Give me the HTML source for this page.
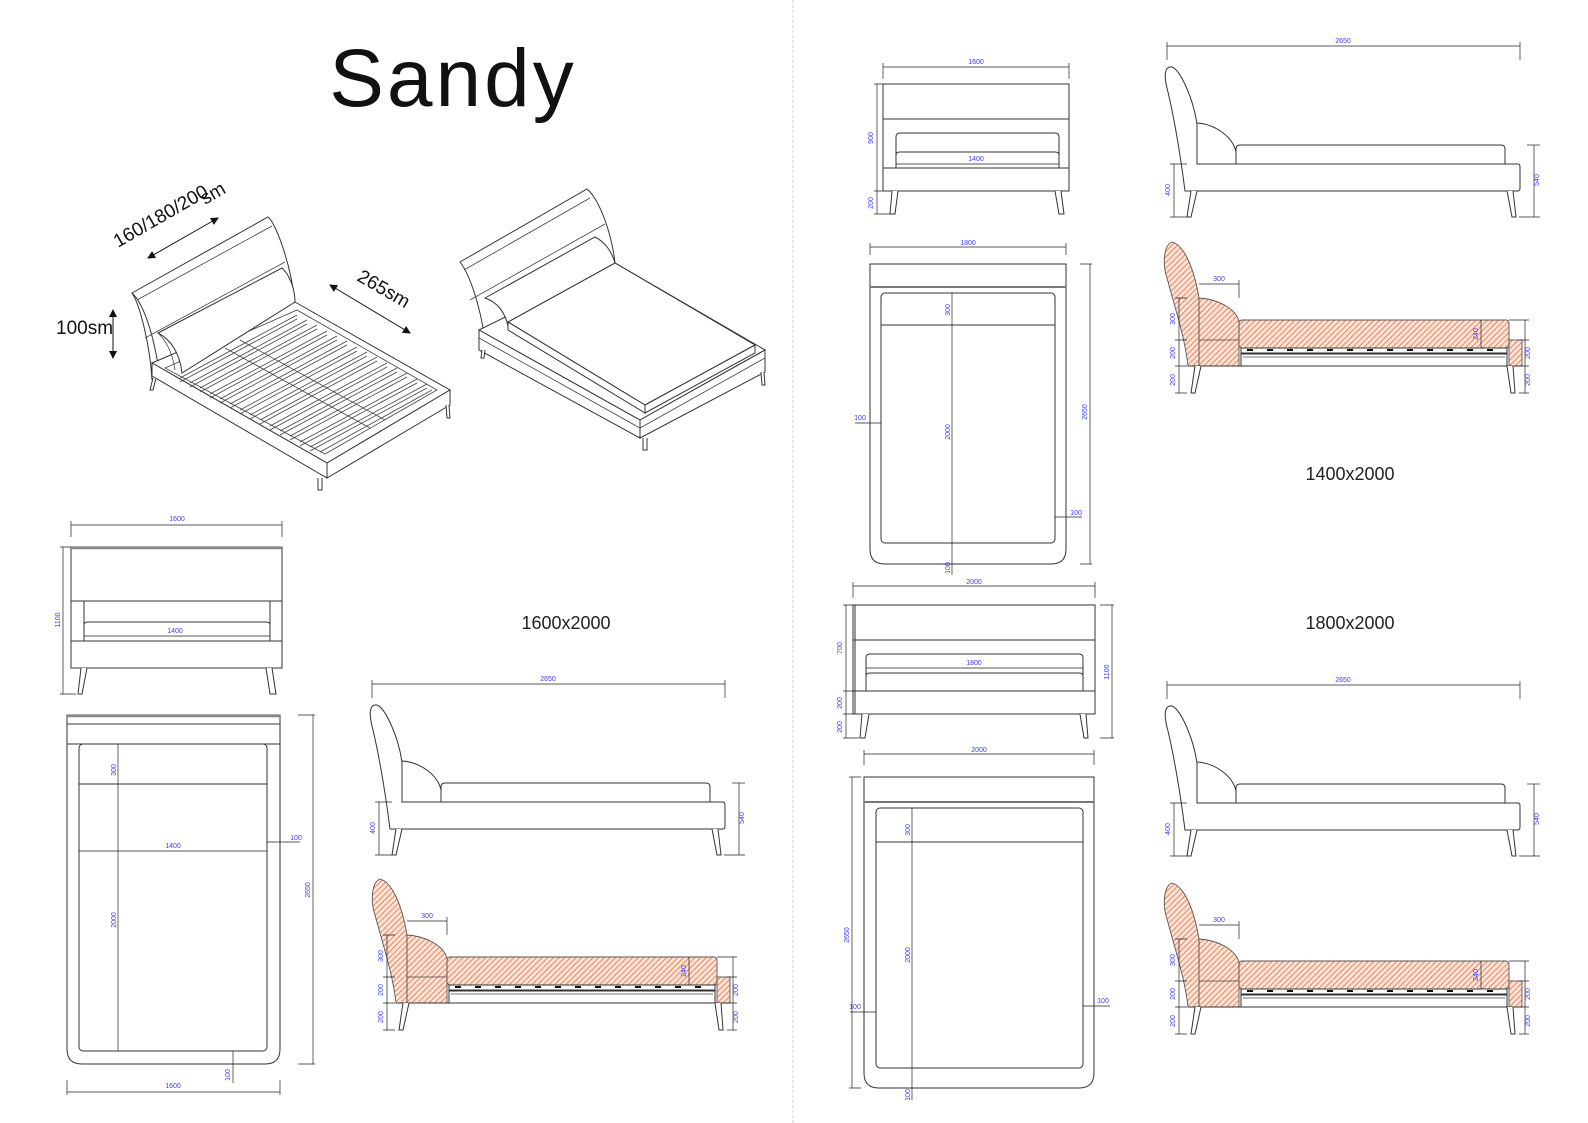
<!DOCTYPE html>
<html><head><meta charset="utf-8">
<style>
html,body{margin:0;padding:0;background:#fff;}
svg{display:block;}
.l{fill:none;stroke:#333;stroke-width:1;}
.lt{fill:none;stroke:#444;stroke-width:0.8;}
.w{fill:#fff;stroke:#333;stroke-width:1;}
.h{fill:url(#hatch);stroke:#555;stroke-width:0.9;}
.dm{fill:none;stroke:#222;stroke-width:0.7;}
.d{font-family:"Liberation Sans",sans-serif;font-size:7px;fill:#3a3aff;}
.big{font-family:"Liberation Sans",sans-serif;font-size:18px;fill:#222;}
.iso{font-family:"Liberation Sans",sans-serif;font-size:19px;fill:#111;}
</style></head><body>
<svg width="1588" height="1123" viewBox="0 0 1588 1123" xmlns="http://www.w3.org/2000/svg">
<defs>
<pattern id="hatch" width="4" height="4" patternUnits="userSpaceOnUse" patternTransform="rotate(45)">
<rect width="4" height="4" fill="#fbe3d8"/>
<line x1="0" y1="0" x2="0" y2="4" stroke="#e8703f" stroke-width="1.6"/>
</pattern>
<marker id="ar" markerWidth="8" markerHeight="8" refX="7" refY="4" orient="auto" markerUnits="userSpaceOnUse">
<path d="M0,0 L8,4 L0,8 Z" fill="#111"/></marker>
<marker id="al" markerWidth="8" markerHeight="8" refX="1" refY="4" orient="auto" markerUnits="userSpaceOnUse">
<path d="M8,0 L0,4 L8,8 Z" fill="#111"/></marker>

<g id="side">
<line class="dm" x1="372" y1="684" x2="725" y2="684"/>
<line class="dm" x1="372" y1="680" x2="372" y2="698"/>
<line class="dm" x1="725" y1="680" x2="725" y2="698"/>
<text class="d" x="548" y="681" text-anchor="middle">2650</text>
<path class="w" d="M390,829 C385,790 380,760 373,730 C368,712 370,704 377,705 C385,708 398,735 402,762 L402,829 Z"/>
<path class="l" d="M402,761 C420,762 438,775 441,790 L441,802"/>
<path class="l" d="M441,802 L441,787 Q441,783 445,783 L706,783 Q710,783 710,787 L710,802"/>
<path class="w" d="M402,802 L723,802 Q725,802 725,805 L725,826 Q725,829 723,829 L390,829"/>
<path class="w" d="M396,829 L392,855 L396,855 L402,829"/>
<path class="w" d="M712,829 L717,855 L721,855 L718,829"/>
<line class="dm" x1="379" y1="802" x2="379" y2="855"/>
<line class="dm" x1="375" y1="802" x2="392" y2="802"/>
<line class="dm" x1="375" y1="855" x2="392" y2="855"/>
<text class="d" transform="translate(375,828) rotate(-90)" text-anchor="middle">400</text>
<line class="dm" x1="739" y1="783" x2="739" y2="855"/>
<line class="dm" x1="732" y1="783" x2="745" y2="783"/>
<line class="dm" x1="724" y1="855" x2="745" y2="855"/>
<text class="d" transform="translate(744,818) rotate(-90)" text-anchor="middle">540</text>
</g>

<g id="sect">
<path class="h" d="M380,879 C372,882 370,900 375,915 C383,945 393,975 396,1003 L407,1003 L407,935 C402,905 392,882 380,879 Z"/>
<path class="h" d="M407,935 C425,936 443,945 447,958 L447,1003 L407,1003 Z"/>
<line class="lt" x1="407" y1="977" x2="447" y2="977"/>
<rect class="h" x="447" y="957" width="270" height="28" rx="3"/>
<rect class="w" x="449" y="985" width="266" height="5"/>
<path d="M455,987h6M475,987h6M495,987h6M515,987h6M535,987h6M555,987h6M575,987h6M595,987h6M615,987h6M635,987h6M655,987h6M675,987h6M695,987h6" stroke="#111" stroke-width="2"/>
<rect class="w" x="449" y="991" width="266" height="12"/>
<line class="lt" x1="451" y1="994" x2="713" y2="994"/>
<rect class="h" x="717" y="977" width="13" height="26"/>
<line class="l" x1="396" y1="1003" x2="730" y2="1003"/>
<path class="w" d="M403,1003 L399,1030 L403,1030 L409,1003"/>
<path class="w" d="M715,1003 L719,1030 L723,1030 L721,1003"/>
<line class="dm" x1="407" y1="921" x2="447" y2="921"/>
<line class="dm" x1="447" y1="917" x2="447" y2="935"/>
<text class="d" x="427" y="918" text-anchor="middle">300</text>
<line class="dm" x1="387" y1="935" x2="387" y2="1030"/>
<path class="dm" d="M383,935h12M383,977h12M383,1003h12M383,1030h12"/>
<text class="d" transform="translate(383,956) rotate(-90)" text-anchor="middle">300</text>
<text class="d" transform="translate(383,990) rotate(-90)" text-anchor="middle">200</text>
<text class="d" transform="translate(383,1017) rotate(-90)" text-anchor="middle">200</text>
<line class="dm" x1="689" y1="957" x2="689" y2="985"/>
<text class="d" transform="translate(686,971) rotate(-90)" text-anchor="middle">240</text>
<line class="dm" x1="733" y1="957" x2="733" y2="1030"/>
<path class="dm" d="M717,957h20M727,977h10M727,1003h10M727,1030h10"/>
<text class="d" transform="translate(738,990) rotate(-90)" text-anchor="middle">200</text>
<text class="d" transform="translate(738,1017) rotate(-90)" text-anchor="middle">200</text>
</g>
</defs>

<!-- divider -->
<line x1="793" y1="0" x2="793" y2="1123" stroke="#ccc" stroke-width="1" stroke-dasharray="3,2"/>

<!-- title -->
<text x="453" y="106" text-anchor="middle" font-family="Liberation Sans, sans-serif" font-size="82" letter-spacing="3" fill="#111">Sandy</text>

<text class="big" x="566" y="629" text-anchor="middle">1600x2000</text>
<text class="big" x="1350" y="480" text-anchor="middle">1400x2000</text>
<text class="big" x="1350" y="629" text-anchor="middle">1800x2000</text>

<!-- left iso with slats -->
<g>
<path class="w" d="M132,293 L268,217 C275,222 290,260 295,302 L160,378 C155,340 145,305 132,293 Z"/>
<path class="l" d="M132,293 C140,305 150,345 152,380"/>
<path class="lt" d="M137,300 L272,226"/>
<path class="lt" d="M145,338 L285,262"/>
<path class="w" d="M152,363 L295,302 L450,390 L327,463 Z"/>
<path class="w" d="M152,363 L152,376 L327,478 L327,463 Z"/>
<path class="w" d="M327,463 L450,390 L450,405 L327,478 Z"/>
<path class="lt" d="M165,368 L297,310 L437,390 L325,454 Z"/>
<path class="w" d="M158,333 L282,268 C290,275 295,290 295,302 L182,373 C180,355 172,340 158,333 Z"/>
<path class="lt" d="M158,333 C165,340 172,350 175,370"/>
<path class="lt" d="M180,378 L297,315 M190,383 L307,320 M200,388 L317,325 M210,394 L327,331 M220,399 L337,336 M230,404 L347,341 M240,410 L357,347 M250,415 L367,352 M260,420 L377,357 M270,426 L387,363 M280,431 L397,368 M290,436 L407,373 M300,442 L417,379 M310,447 L427,384 M320,452 L432,390"/>
<path class="lt" d="M180,382 L297,319 M190,387 L307,324 M200,392 L317,329 M210,398 L327,335 M220,403 L337,340 M230,408 L347,345 M240,414 L357,351 M250,419 L367,356 M260,424 L377,361 M270,430 L387,367 M280,435 L397,372 M290,440 L407,377 M300,446 L417,383 M310,451 L427,388"/>
<path class="lt" d="M240,340 L385,420 M225,348 L370,428"/>
<path class="w" d="M153,378 L150,390 L153,390 L156,378"/>
<path class="w" d="M318,478 L318,490 L322,490 L322,478"/>
<path class="w" d="M446,405 L447,418 L450,418 L449,405"/>
</g>
<line x1="218" y1="218" x2="148" y2="258" stroke="#111" stroke-width="1" marker-end="url(#ar)" marker-start="url(#al)"/>
<line x1="330" y1="285" x2="410" y2="333" stroke="#111" stroke-width="1" marker-end="url(#ar)" marker-start="url(#al)"/>
<line x1="113" y1="310" x2="113" y2="358" stroke="#111" stroke-width="1" marker-end="url(#ar)" marker-start="url(#al)"/>
<text class="iso" transform="translate(118,248) rotate(-30)">160/180/200</text>
<text class="iso" transform="translate(205,205) rotate(-30)">sm</text>
<text class="iso" transform="translate(356,280) rotate(30)">265sm</text>
<text class="iso" x="56" y="334">100sm</text>

<!-- right iso with mattress -->
<g>
<path class="w" d="M460,262 L587,189 C600,200 612,235 615,263 L485,340 C480,305 470,275 460,262 Z"/>
<path class="lt" d="M464,270 L590,198 M470,300 L605,224"/>
<path class="w" d="M479,330 L615,263 L765,350 L640,420 Z"/>
<path class="w" d="M479,330 L479,350 L640,438 L640,420 Z"/>
<path class="w" d="M640,420 L765,350 L765,372 L640,438 Z"/>
<path class="lt" d="M479,338 L640,428 L765,358"/>
<path class="w" d="M485,298 L595,237 C605,242 612,252 615,263 L508,326 C505,312 497,302 485,298 Z"/>
<path class="w" d="M508,322 L615,263 L755,345 L645,405 Z"/>
<path class="w" d="M508,322 L508,330 L645,413 L645,405 Z"/>
<path class="w" d="M645,405 L755,345 L755,353 L645,413 Z"/>
<path class="w" d="M482,350 L481,358 L484,358 L485,350"/>
<path class="w" d="M643,438 L643,450 L647,450 L647,438"/>
<path class="w" d="M761,372 L762,385 L765,385 L764,372"/>
</g>

<!-- left front 1600 -->
<g>
<line class="dm" x1="71" y1="525" x2="282" y2="525"/>
<path class="dm" d="M71,521v16M282,521v16"/>
<text class="d" x="177" y="521" text-anchor="middle">1600</text>
<rect class="w" x="71" y="547" width="211" height="121"/>
<line x1="71" y1="548" x2="282" y2="548" stroke="#888" stroke-width="2.5"/>
<line class="l" x1="71" y1="601" x2="282" y2="601"/>
<path class="l" d="M84,601 L84,641 M270,601 L270,641"/>
<path class="l" d="M84,641 L84,625 Q84,622 88,622 L266,622 Q270,622 270,625 L270,641"/>
<line class="dm" x1="84" y1="636" x2="270" y2="636"/>
<text class="d" x="175" y="633" text-anchor="middle">1400</text>
<line class="l" x1="71" y1="641" x2="282" y2="641"/>
<path class="w" d="M81,668 L78,694 L82,694 L87,668"/>
<path class="w" d="M266,668 L270,694 L276,694 L272,668"/>
<line class="dm" x1="63" y1="547" x2="63" y2="694"/>
<path class="dm" d="M60,547h11M60,694h16"/>
<text class="d" transform="translate(60,620) rotate(-90)" text-anchor="middle">1100</text>
</g>

<!-- left plan -->
<g>
<path class="w" d="M67,715 L280,715 L280,1049 Q280,1064 265,1064 L82,1064 Q67,1064 67,1049 Z"/>
<line x1="67" y1="716" x2="280" y2="716" stroke="#888" stroke-width="2.5"/>
<line class="l" x1="67" y1="724" x2="280" y2="724"/>
<line class="l" x1="67" y1="744" x2="280" y2="744"/>
<rect class="w" x="79" y="744" width="188" height="307" rx="4"/>
<line class="l" x1="79" y1="784" x2="267" y2="784"/>
<line class="dm" x1="118" y1="744" x2="118" y2="1051"/>
<line class="dm" x1="79" y1="851" x2="267" y2="851"/>
<text class="d" transform="translate(116,770) rotate(-90)" text-anchor="middle">300</text>
<text class="d" x="173" y="848" text-anchor="middle">1400</text>
<text class="d" transform="translate(116,920) rotate(-90)" text-anchor="middle">2000</text>
<line class="dm" x1="267" y1="842" x2="300" y2="842"/>
<text class="d" x="296" y="840" text-anchor="middle">100</text>
<line class="dm" x1="313" y1="715" x2="313" y2="1064"/>
<path class="dm" d="M298,715h17M298,1064h17"/>
<text class="d" transform="translate(310,890) rotate(-90)" text-anchor="middle">2650</text>
<line class="dm" x1="67" y1="1092" x2="280" y2="1092"/>
<path class="dm" d="M67,1080v15M280,1080v15"/>
<text class="d" x="173" y="1088" text-anchor="middle">1600</text>
<line class="dm" x1="233" y1="1051" x2="233" y2="1083"/>
<text class="d" transform="translate(230,1075) rotate(-90)" text-anchor="middle">100</text>
</g>

<!-- side & section views -->
<use href="#side"/>
<use href="#sect"/>
<use href="#side" transform="translate(795,-638)"/>
<use href="#sect" transform="translate(792,-637)"/>
<use href="#side" transform="translate(795,1)"/>
<use href="#sect" transform="translate(792,4)"/>

<!-- right front 1400 -->
<g>
<line class="dm" x1="883" y1="67" x2="1069" y2="67"/>
<path class="dm" d="M883,63v16M1069,63v16"/>
<text class="d" x="976" y="64" text-anchor="middle">1600</text>
<rect class="w" x="883" y="84" width="186" height="107"/>
<line class="l" x1="883" y1="119" x2="1069" y2="119"/>
<path class="l" d="M896,168 L896,137 Q896,133 900,133 L1055,133 Q1059,133 1059,137 L1059,168"/>
<path class="l" d="M896,155 Q896,152 900,152 L1055,152 Q1059,152 1059,155"/>
<line class="dm" x1="896" y1="164" x2="1059" y2="164"/>
<text class="d" x="976" y="161" text-anchor="middle">1400</text>
<line class="l" x1="883" y1="168" x2="1069" y2="168"/>
<path class="w" d="M892,191 L890,214 L895,214 L898,191"/>
<path class="w" d="M1055,191 L1059,214 L1064,214 L1061,191"/>
<line class="dm" x1="877" y1="84" x2="877" y2="214"/>
<path class="dm" d="M874,84h9M874,191h9M874,214h16"/>
<text class="d" transform="translate(873,138) rotate(-90)" text-anchor="middle">900</text>
<text class="d" transform="translate(873,203) rotate(-90)" text-anchor="middle">200</text>
</g>

<!-- right plan 1400 -->
<g>
<line class="dm" x1="870" y1="247" x2="1066" y2="247"/>
<path class="dm" d="M870,243v12M1066,243v12"/>
<text class="d" x="968" y="245" text-anchor="middle">1800</text>
<path class="w" d="M870,264 L1066,264 L1066,549 Q1066,564 1051,564 L885,564 Q870,564 870,549 Z"/>
<line x1="870" y1="287" x2="1066" y2="287" stroke="#777" stroke-width="2"/>
<rect class="w" x="881" y="293" width="174" height="250" rx="4"/>
<line class="l" x1="881" y1="325" x2="1055" y2="325"/>
<line class="dm" x1="952" y1="293" x2="952" y2="575"/>
<text class="d" transform="translate(950,310) rotate(-90)" text-anchor="middle">300</text>
<text class="d" transform="translate(950,432) rotate(-90)" text-anchor="middle">2000</text>
<text class="d" transform="translate(950,568) rotate(-90)" text-anchor="middle">100</text>
<line class="dm" x1="855" y1="423" x2="881" y2="423"/>
<text class="d" x="860" y="420" text-anchor="middle">100</text>
<line class="dm" x1="1055" y1="517" x2="1082" y2="517"/>
<text class="d" x="1076" y="515" text-anchor="middle">100</text>
<line class="dm" x1="1090" y1="264" x2="1090" y2="564"/>
<path class="dm" d="M1080,264h12M1080,564h12"/>
<text class="d" transform="translate(1087,412) rotate(-90)" text-anchor="middle">2650</text>
</g>

<!-- right front 1800 -->
<g>
<line class="dm" x1="853" y1="586" x2="1095" y2="586"/>
<path class="dm" d="M853,582v16M1095,582v16"/>
<text class="d" x="974" y="584" text-anchor="middle">2000</text>
<rect class="w" x="853" y="605" width="242" height="109"/>
<line class="l" x1="855" y1="605" x2="855" y2="714"/>
<line class="l" x1="853" y1="640" x2="1095" y2="640"/>
<path class="l" d="M866,691 L866,658 Q866,654 870,654 L1079,654 Q1083,654 1083,658 L1083,691"/>
<path class="l" d="M866,676 Q866,673 870,673 L1079,673 Q1083,673 1083,676"/>
<line class="dm" x1="866" y1="668" x2="1083" y2="668"/>
<text class="d" x="974" y="665" text-anchor="middle">1800</text>
<line class="l" x1="853" y1="691" x2="1095" y2="691"/>
<path class="w" d="M862,714 L860,738 L865,738 L869,714"/>
<path class="w" d="M1080,714 L1084,738 L1088,738 L1086,714"/>
<line class="dm" x1="846" y1="605" x2="846" y2="738"/>
<path class="dm" d="M843,605h10M843,691h10M843,714h10M843,738h16"/>
<text class="d" transform="translate(842,648) rotate(-90)" text-anchor="middle">700</text>
<text class="d" transform="translate(842,703) rotate(-90)" text-anchor="middle">200</text>
<text class="d" transform="translate(842,727) rotate(-90)" text-anchor="middle">200</text>
<line class="dm" x1="1112" y1="605" x2="1112" y2="738"/>
<path class="dm" d="M1100,605h14M1100,738h14"/>
<text class="d" transform="translate(1109,672) rotate(-90)" text-anchor="middle">1100</text>
</g>

<!-- right plan 1800 -->
<g>
<line class="dm" x1="864" y1="754" x2="1094" y2="754"/>
<path class="dm" d="M864,750v15M1094,750v15"/>
<text class="d" x="979" y="752" text-anchor="middle">2000</text>
<path class="w" d="M864,777 L1094,777 L1094,1073 Q1094,1088 1079,1088 L879,1088 Q864,1088 864,1073 Z"/>
<line x1="864" y1="802" x2="1094" y2="802" stroke="#777" stroke-width="2"/>
<rect class="w" x="876" y="808" width="207" height="260" rx="4"/>
<line class="l" x1="876" y1="842" x2="1083" y2="842"/>
<line class="dm" x1="912" y1="808" x2="912" y2="1100"/>
<text class="d" transform="translate(910,830) rotate(-90)" text-anchor="middle">300</text>
<text class="d" transform="translate(910,955) rotate(-90)" text-anchor="middle">2000</text>
<text class="d" transform="translate(910,1095) rotate(-90)" text-anchor="middle">100</text>
<line class="dm" x1="852" y1="777" x2="852" y2="1088"/>
<path class="dm" d="M849,777h12M849,1088h12"/>
<text class="d" transform="translate(849,935) rotate(-90)" text-anchor="middle">2650</text>
<line class="dm" x1="850" y1="1012" x2="876" y2="1012"/>
<text class="d" x="855" y="1009" text-anchor="middle">100</text>
<line class="dm" x1="1083" y1="1006" x2="1110" y2="1006"/>
<text class="d" x="1103" y="1003" text-anchor="middle">100</text>
</g>
</svg>
</body></html>
